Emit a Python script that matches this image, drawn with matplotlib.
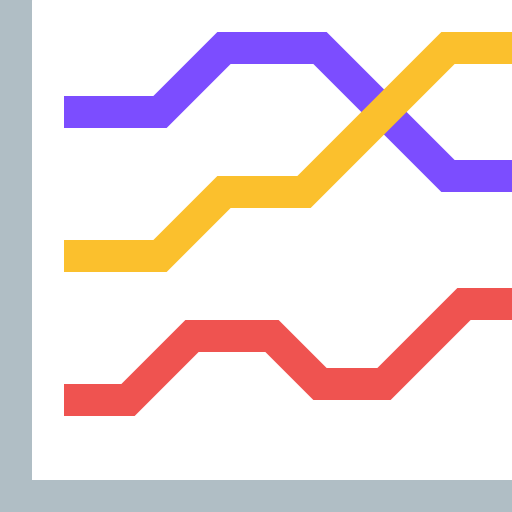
import matplotlib
matplotlib.use("Agg")
import matplotlib.pyplot as plt

# grid units: 1 unit = 16 px
purple_x = [4, 10, 14, 20, 28, 32]
purple_y = [23, 23, 27, 27, 19, 19]

yellow_x = [4, 10, 14, 19, 28, 32]
yellow_y = [14, 14, 18, 18, 27, 27]

red_x = [4, 8, 12, 17, 20, 24, 29, 32]
red_y = [5, 5, 9, 9, 6, 6, 11, 11]

series = [
    (purple_x, purple_y, "#7C4DFF"),
    (yellow_x, yellow_y, "#FBC02D"),
    (red_x, red_y, "#EF5350"),
]


def main():
    fig = plt.figure(figsize=(5.12, 5.12), dpi=100, facecolor="#B0BEC5")
    ax = fig.add_axes([32 / 512, 32 / 512, 480 / 512, 480 / 512])
    ax.set_facecolor("white")
    for xs, ys, color in series:
        ax.plot(xs, ys, color=color, linewidth=23.04,
                solid_capstyle="butt", solid_joinstyle="miter")
    ax.set_xlim(2, 32)
    ax.set_ylim(0, 30)
    ax.axis("off")
    ax.add_patch(plt.Rectangle((2, 0), 30, 30, color="white", zorder=0))
    fig.savefig("out.png", dpi=100, facecolor=fig.get_facecolor())


if __name__ == "__main__":
    main()
